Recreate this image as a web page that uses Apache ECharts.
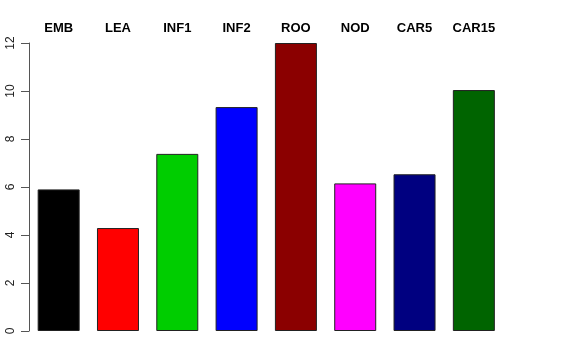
<!DOCTYPE html>
<html><head><meta charset="utf-8">
<script src="https://cdn.jsdelivr.net/npm/echarts@6/dist/echarts.min.js"></script>
<style>html,body{margin:0;padding:0;background:#fff}#c{width:576px;height:360px}</style>
</head><body><div id="c"></div>
<script>
var categories = ["EMB","LEA","INF1","INF2","ROO","NOD","CAR5","CAR15"];
var values = [5.9, 4.29, 7.38, 9.33, 12.0, 6.15, 6.53, 10.04];
var colors = ["#000000","#FF0000","#00CD00","#0000FF","#8B0000","#FF00FF","#000080","#006400"];
var yTicks = [0,2,4,6,8,10,12];

var chart = echarts.init(document.getElementById('c'), null, {renderer:'canvas'});
chart.setOption({
  animation:false,
  backgroundColor:'#fff',
  grid:{left:29, right:72.5, top:43, bottom:29, containLabel:false},
  xAxis:{
    type:'category', data:categories, position:'top',
    axisLine:{show:false}, axisTick:{show:false},
    axisLabel:{margin:8, fontFamily:'Liberation Sans, Arial, sans-serif', fontWeight:'bold', fontSize:13, color:'#000'}
  },
  yAxis:{
    type:'value', min:yTicks[0], max:yTicks[yTicks.length-1], interval:2,
    axisLine:{show:true, lineStyle:{color:'#555', width:1}},
    axisTick:{show:true, length:8, lineStyle:{color:'#555'}},
    splitLine:{show:false},
    axisLabel:{rotate:90, margin:12, fontFamily:'Liberation Sans, Arial, sans-serif', fontSize:12, color:'#222'}
  },
  series:[{
    type:'bar',
    data:values.map(function(v,i){return {value:v, itemStyle:{color:colors[i]}};}),
    barWidth:42,
    itemStyle:{borderColor:'#222', borderWidth:1}
  }]
});
</script></body></html>
